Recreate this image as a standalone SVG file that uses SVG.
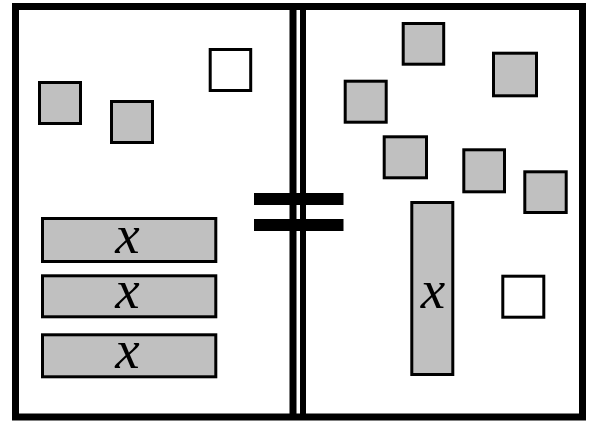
<svg xmlns="http://www.w3.org/2000/svg" width="593" height="421" viewBox="0 0 593 421">
<style>
.frame{fill:none;stroke:#000;stroke-width:7}
.g{fill:#c0c0c0;stroke:#000;stroke-width:3}
.w{fill:#fff;stroke:#000;stroke-width:3}
.lbl{font-family:"Liberation Serif","Times New Roman",serif;font-style:italic;font-size:55px;fill:#000;text-anchor:middle}
</style>
<rect width="593" height="421" fill="#fff"/>
<g id="frame">
<rect class="frame" x="15.5" y="6.5" width="567" height="410.5"/>
<line x1="293" y1="6.5" x2="293" y2="417" stroke="#000" stroke-width="7"/>
<line x1="303" y1="6.5" x2="303" y2="417" stroke="#000" stroke-width="6"/>
</g>
<g id="not-equal">
<rect x="254" y="193" width="89.5" height="12" fill="#000"/>
<rect x="254" y="219" width="89.5" height="12" fill="#000"/>
</g>
<g id="left-items">
<rect id="l-sq1" class="g" x="39.5" y="82.5" width="41" height="41"/>
<rect id="l-sq2" class="g" x="111.5" y="101.5" width="41" height="41"/>
<rect id="l-white" class="w" x="210.2" y="49.5" width="40.5" height="41"/>
<g id="l-bar1"><rect class="g" x="42.5" y="218.5" width="173.3" height="43"/><text class="lbl" x="127.5" y="253">x</text></g>
<g id="l-bar2"><rect class="g" x="42.5" y="275.8" width="173.3" height="41"/><text class="lbl" x="127.5" y="308">x</text></g>
<g id="l-bar3"><rect class="g" x="42.5" y="334.8" width="173.3" height="42"/><text class="lbl" x="127.5" y="368">x</text></g>
</g>
<g id="right-items">
<rect id="r-sq1" class="g" x="403.2" y="23.5" width="40.5" height="40.7"/>
<rect id="r-sq2" class="g" x="493.5" y="53.2" width="43" height="42.6"/>
<rect id="r-sq3" class="g" x="345.2" y="81.2" width="41" height="41"/>
<rect id="r-sq4" class="g" x="384.2" y="136.8" width="42.3" height="41"/>
<rect id="r-sq5" class="g" x="463.8" y="149.8" width="40.7" height="42"/>
<rect id="r-sq6" class="g" x="524.8" y="171.8" width="41.4" height="40.7"/>
<g id="r-bar"><rect class="g" x="411.8" y="202.5" width="41" height="172"/><text class="lbl" x="433" y="308">x</text></g>
<rect id="r-white" class="w" x="502.8" y="276.2" width="41" height="41"/>
</g>
</svg>
